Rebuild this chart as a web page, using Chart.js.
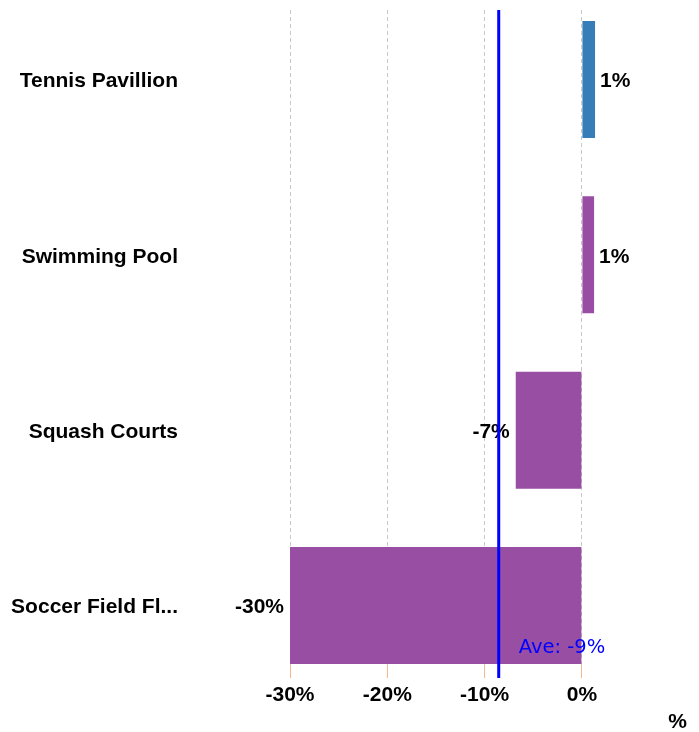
<!DOCTYPE html>
<html>
<head>
<meta charset="utf-8">
<script src="https://cdn.jsdelivr.net/npm/chart.js@4.4.0/dist/chart.umd.min.js"></script>
<style>
  html, body { margin: 0; padding: 0; background: #fff; }
  #wrap { width: 699px; height: 732px; }
</style>
</head>
<body>
<div id="wrap"><canvas id="grafico" width="699" height="732"></canvas></div>
<script>
const categorias = ['Tennis Pavillion', 'Swimming Pool', 'Squash Courts', 'Soccer Field Fl...'];
const valores = [1.35, 1.25, -6.8, -30];
const colores = ['#377eb8', '#984ea3', '#984ea3', '#984ea3'];
const ticksX = [-30, -20, -10, 0];

const promedio = valores.reduce((a, b) => a + b, 0) / valores.length;

const fuenteNegrita = { family: '"Liberation Sans", Arial, sans-serif', size: 21, weight: 'bold', lineHeight: 1 };

const etiquetasBarras = {
    id: 'etiquetasBarras',
    afterDatasetsDraw(chart) {
        const ctx = chart.ctx;
        const meta = chart.getDatasetMeta(0);
        ctx.save();
        ctx.font = 'bold 21px "Liberation Sans", Arial, sans-serif';
        ctx.fillStyle = '#000';
        ctx.textBaseline = 'middle';
        meta.data.forEach((bar, i) => {
            const v = valores[i];
            const txt = Math.round(v) + '%';
            if (v >= 0) {
                ctx.textAlign = 'left';
                ctx.fillText(txt, bar.x + 5, bar.y + 2);
            } else {
                ctx.textAlign = 'right';
                ctx.fillText(txt, bar.x - 6, bar.y + 2);
            }
        });
        ctx.restore();
    }
};

const lineaPromedio = {
    id: 'lineaPromedio',
    afterDatasetsDraw(chart) {
        const ctx = chart.ctx;
        const x = chart.scales.x.getPixelForValue(promedio);
        const area = chart.chartArea;
        ctx.save();
        ctx.strokeStyle = '#0000ff';
        ctx.lineWidth = 3;
        ctx.beginPath();
        ctx.moveTo(x, area.top);
        ctx.lineTo(x, area.bottom + 13);
        ctx.stroke();
        ctx.font = '19.5px "DejaVu Sans", Verdana, sans-serif';
        ctx.fillStyle = '#0000ff';
        ctx.textAlign = 'left';
        ctx.textBaseline = 'middle';
        ctx.fillText('Ave: ' + Math.round(promedio) + '%', x + 20, area.bottom - 17);
        ctx.restore();
    }
};

new Chart(document.getElementById('grafico'), {
    type: 'bar',
    data: {
        datasets: [{
            data: valores.map((v, i) => ({ x: v, y: i })),
            backgroundColor: colores,
            borderWidth: 0,
            barPercentage: 0.667,
            categoryPercentage: 1
        }]
    },
    options: {
        indexAxis: 'y',
        responsive: false,
        animation: false,
        layout: { padding: { top: 10, right: 12, left: 0, bottom: 0 } },
        plugins: {
            legend: { display: false },
            tooltip: { enabled: false }
        },
        scales: {
            x: {
                type: 'linear',
                bounds: 'data',
                min: -30,
                max: 10.8,
                afterBuildTicks: (scale) => {
                    scale.ticks = ticksX.map(v => ({ value: v }));
                },
                afterFit: (scale) => {
                    scale.paddingLeft = 0;
                    scale.paddingRight = 0;
                    scale.height = 67;
                },
                grid: {
                    color: '#c8c8c8',
                    lineWidth: 1,
                    tickLength: 13,
                    tickColor: '#f5b88a'
                },
                border: { display: false, dash: [4, 3] },
                ticks: {
                    color: '#000',
                    padding: 7,
                    font: fuenteNegrita,
                    callback: (v) => v + '%'
                },
                title: {
                    display: true,
                    text: '%',
                    align: 'end',
                    color: '#000',
                    padding: { top: 0, bottom: -1 },
                    font: fuenteNegrita
                }
            },
            y: {
                type: 'linear',
                bounds: 'data',
                offset: false,
                reverse: true,
                min: -0.396,
                max: 3.339,
                afterBuildTicks: (scale) => {
                    scale.ticks = categorias.map((c, i) => ({ value: i }));
                },
                afterFit: (scale) => {
                    scale.width = 290;
                    scale.paddingTop = 0;
                    scale.paddingBottom = 0;
                },
                grid: { display: false, drawTicks: false, offset: false },
                border: { display: false },
                ticks: {
                    color: '#000',
                    padding: 112,
                    labelOffset: 2,
                    font: fuenteNegrita,
                    callback: (v) => categorias[v] !== undefined ? categorias[v] : ''
                }
            }
        }
    },
    plugins: [etiquetasBarras, lineaPromedio]
});
</script>
</body>
</html>
